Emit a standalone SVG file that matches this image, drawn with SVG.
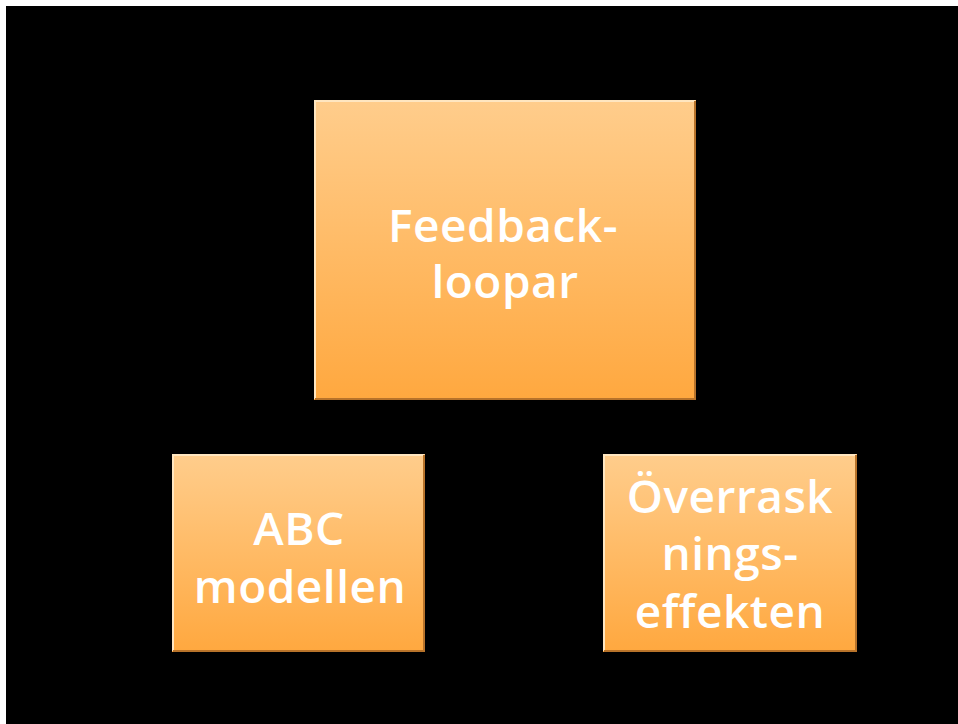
<svg xmlns="http://www.w3.org/2000/svg" width="958" height="724" viewBox="0 0 958 724">
<defs>
<linearGradient id="g" x1="0" y1="0" x2="0" y2="1">
<stop offset="0" stop-color="#FFCD8C"/>
<stop offset="1" stop-color="#FFA83F"/>
</linearGradient>
<style>
.box{fill:url(#g);}
.hi{fill:none;stroke:#FFE6C0;stroke-width:2;}
.lo{fill:none;stroke:#B8732A;stroke-width:2;}
.t{font-family:"Open Sans","Liberation Sans",sans-serif;font-weight:600;font-size:46px;fill:#FFFFFF;text-anchor:middle;letter-spacing:0.5px;}
</style>
</defs>
<rect x="0" y="0" width="958" height="724" fill="#FFFFFF"/>
<rect x="6" y="6" width="952" height="718" fill="#000000"/>
<g id="connectors"></g>
<g id="node-feedback">
<rect class="box" x="314" y="100" width="382" height="300"/>
<polyline class="hi" points="315,399 315,101 695,101"/>
<polyline class="lo" points="315,399 695,399 695,101"/>
<text class="t" x="503" y="242">Feedback-</text>
<text class="t" x="505" y="298">loopar</text>
</g>
<g id="node-abc">
<rect class="box" x="172" y="454" width="253" height="198"/>
<polyline class="hi" points="173,651 173,455 424,455"/>
<polyline class="lo" points="173,651 424,651 424,455"/>
<text class="t" x="299" y="545">ABC</text>
<text class="t" x="300" y="603">modellen</text>
</g>
<g id="node-overraskning">
<rect class="box" x="603" y="454" width="254" height="198"/>
<polyline class="hi" points="604,651 604,455 856,455"/>
<polyline class="lo" points="604,651 856,651 856,455"/>
<text class="t" x="730" y="513">Överrask</text>
<text class="t" x="730" y="570">nings-</text>
<text class="t" x="730" y="628">effekten</text>
</g>
</svg>
